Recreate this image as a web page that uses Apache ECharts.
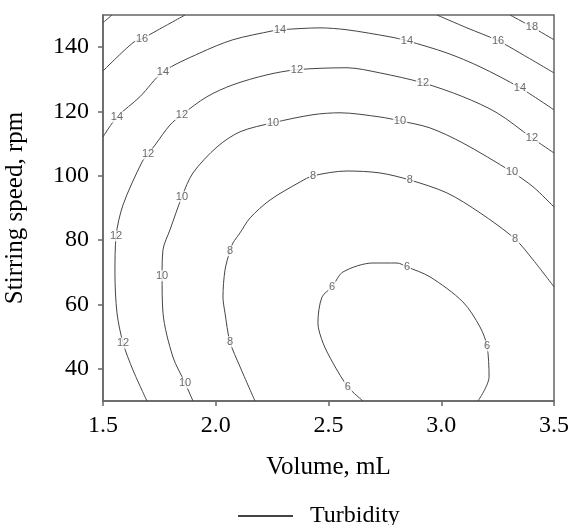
<!DOCTYPE html>
<html>
<head>
<meta charset="utf-8">
<script src="https://cdn.jsdelivr.net/npm/echarts@6/dist/echarts.min.js"></script>
<style>html,body{margin:0;padding:0;background:#fff}#c{width:570px;height:525px}</style>
</head>
<body>
<div id="c"></div>
<script>
// Axis ticks
const xTicks = [1.5, 2.0, 2.5, 3.0, 3.5];
const yTicks = [40, 60, 80, 100, 120, 140];

// Contour lines [volume, stirring speed]
const c18a = [[1.500,147.6],[1.540,150.0]];
const c18b = [[3.305,150.0],[3.402,146.3],[3.500,142.3]];
const c16a = [[1.500,132.6],[1.633,141.4],[1.673,142.6],[1.722,144.5],[1.864,150.0]];
const c16b = [[2.981,150.0],[3.114,146.0],[3.252,142.0],[3.349,138.2],[3.500,132.0]];
const c14 = [[1.500,112.1],[1.562,118.3],[1.664,124.6],[1.766,132.3],[1.930,138.2],[2.076,142.3],[2.254,145.1],[2.285,145.4],[2.462,146.0],[2.582,145.4],[2.773,143.2],[2.848,142.0],[3.025,138.2],[3.172,133.9],[3.349,127.4],[3.500,120.5]];
const c12 = [[1.695,30.0],[1.633,39.6],[1.589,48.0],[1.562,57.4],[1.553,69.8],[1.558,81.3],[1.589,91.0],[1.673,104.3],[1.700,106.8],[1.731,109.6],[1.797,115.8],[1.850,119.0],[1.961,124.6],[2.076,128.3],[2.227,131.4],[2.360,133.0],[2.582,133.6],[2.728,132.0],[2.919,128.9],[3.096,124.6],[3.247,119.6],[3.402,111.8],[3.500,107.1]];
const c10 = [[1.899,30.0],[1.864,35.6],[1.810,43.7],[1.766,57.4],[1.762,68.9],[1.766,77.0],[1.797,83.2],[1.850,93.5],[1.899,100.9],[2.006,109.0],[2.108,113.7],[2.254,116.5],[2.431,119.0],[2.551,119.6],[2.728,118.3],[2.817,117.1],[2.950,114.9],[3.096,110.2],[3.314,101.2],[3.407,96.6],[3.500,90.3]];
const c8 = [[2.174,30.0],[2.108,40.6],[2.063,48.4],[2.041,57.4],[2.032,62.3],[2.041,70.7],[2.063,76.7],[2.076,79.1],[2.108,82.3],[2.152,86.9],[2.241,92.5],[2.374,98.1],[2.431,100.0],[2.582,101.5],[2.728,100.9],[2.861,98.7],[3.025,94.7],[3.172,88.5],[3.327,80.4],[3.407,73.9],[3.500,65.5]];
const c6 = [[2.653,30.0],[2.586,34.4],[2.520,41.8],[2.476,48.0],[2.453,54.3],[2.471,62.3],[2.516,65.5],[2.564,70.1],[2.697,72.9],[2.804,72.9],[2.848,71.7],[2.950,68.6],[3.096,60.8],[3.172,53.0],[3.203,47.1],[3.212,37.5],[3.163,30.0]];

// Contour labels [volume, stirring speed, value]
const contourLabels = [
  [3.402,146.3,18],[1.673,142.6,16],[3.252,142.0,16],
  [1.562,118.3,14],[1.766,132.3,14],[2.285,145.4,14],[2.848,142.0,14],[3.349,127.4,14],
  [1.589,48.0,12],[1.558,81.3,12],[1.700,106.8,12],[1.850,119.0,12],[2.360,133.0,12],[2.919,128.9,12],[3.402,111.8,12],
  [1.864,35.6,10],[1.762,68.9,10],[1.850,93.5,10],[2.254,116.5,10],[2.817,117.1,10],[3.314,101.2,10],
  [2.063,48.4,8],[2.063,76.7,8],[2.431,100.0,8],[2.861,98.7,8],[3.327,80.4,8],
  [2.586,34.4,6],[2.516,65.5,6],[2.848,71.7,6],[3.203,47.1,6]
];

const contours = [c18a, c18b, c16a, c16b, c14, c12, c10, c8, c6];
const LINE = '#444';
const serif = '"Liberation Serif", "Times New Roman", serif';

const series = contours.map(d => ({
  name: 'Turbidity',
  type: 'line',
  data: d,
  symbol: 'none',
  smooth: 0.3,
  lineStyle: { color: LINE, width: 1 },
  itemStyle: { color: LINE },
  z: 2,
  silent: true
}));
series.push({
  type: 'scatter',
  data: contourLabels,
  symbolSize: 0,
  z: 5,
  silent: true,
  label: {
    show: true,
    position: 'inside',
    formatter: p => String(p.value[2]),
    fontFamily: '"Liberation Sans", Arial, sans-serif',
    fontSize: 11,
    color: '#444',
    backgroundColor: '#fff',
    padding: [0, 1]
  }
});

const chart = echarts.init(document.getElementById('c'), null, { renderer: 'canvas' });
chart.setOption({
  animation: false,
  backgroundColor: '#fff',
  grid: { left: 103, right: 16, top: 15, bottom: 124, outerBoundsMode: 'none', containLabel: false, show: true, borderColor: '#666', borderWidth: 1.5, backgroundColor: 'transparent' },
  legend: {
    data: [{ name: 'Turbidity', icon: 'rect' }],
    left: 233, top: 499,
    itemWidth: 55, itemHeight: 2,
    itemStyle: { color: '#444' },
    textStyle: { fontFamily: serif, fontSize: 24, color: '#000', padding: [0, 0, 0, 12] }
  },
  xAxis: {
    type: 'value', min: 1.5, max: 3.5, interval: 0.5,
    name: 'Volume, mL', nameLocation: 'middle', nameGap: 54,
    nameTextStyle: { fontFamily: serif, fontSize: 25, color: '#000' },
    axisLine: { show: true, onZero: false, lineStyle: { color: '#666', width: 1.5 } },
    axisTick: { show: true, inside: false, length: 5, lineStyle: { color: '#666', width: 1.5 } },
    axisLabel: { fontFamily: serif, fontSize: 24, color: '#000', margin: 13, formatter: v => v.toFixed(1) },
    splitLine: { show: false }
  },
  yAxis: {
    type: 'value', min: 30, max: 150,
    name: 'Stirring speed, rpm', nameLocation: 'middle', nameGap: 75,
    nameTextStyle: { fontFamily: serif, fontSize: 25, color: '#000' },
    axisLine: { show: true, onZero: false, lineStyle: { color: '#666', width: 1.5 } },
    axisTick: { show: true, inside: false, length: 5, customValues: yTicks, lineStyle: { color: '#666', width: 1.5 } },
    axisLabel: { fontFamily: serif, fontSize: 24, color: '#000', margin: 14, customValues: yTicks },
    splitLine: { show: false }
  },
  series: series
});
</script>
</body>
</html>
